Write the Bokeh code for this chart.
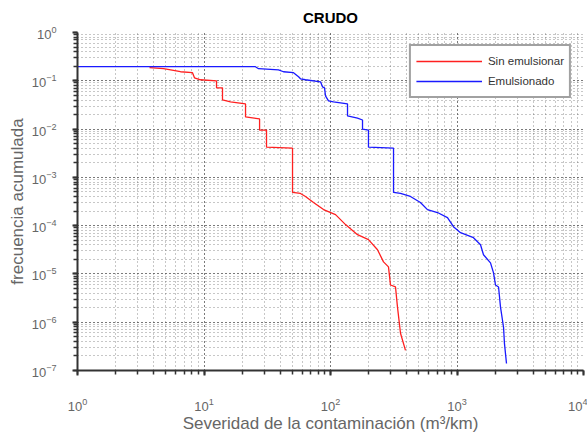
from bokeh.plotting import figure
from bokeh.models import Legend, LegendItem, LogTickFormatter
from bokeh.embed import file_html
from bokeh.resources import INLINE

# Sin emulsionar (red) - step curve vertices
sin_x = [3.71, 4.79, 6.52, 8.11, 8.41, 9.38, 12.56, 12.56, 14.0, 14.0, 16.2, 21.3, 21.3, 27.5, 27.5,
         31.2, 31.2, 50.1, 50.1, 57.9, 63.4, 73.4, 88.1, 109.6, 131.5, 163.5, 199.6, 235.3, 262.5,
         287.3, 298.0, 326.5, 338.5, 357.6, 391.6]
sin_y = [0.187, 0.178, 0.154, 0.147, 0.1155, 0.105, 0.100, 0.0715, 0.0715, 0.0402, 0.0365, 0.0332,
         0.0178, 0.0162, 0.00955, 0.00955, 0.00422, 0.00402, 0.000487, 0.000464, 0.000402, 0.000302,
         0.000215, 0.000169, 0.000105, 6.49e-5, 5.13e-5, 3.16e-5, 1.78e-5, 1.40e-5, 5.9e-6, 5.37e-6,
         2.05e-6, 5.9e-7, 2.61e-7]

# Emulsionado (blue)
emu_x = [1.0, 25.5, 27.0, 38.8, 42.5, 51.0, 55.9, 57.9, 63.4, 83.4, 86.4, 89.7, 91.3, 96.4, 105.6,
         136.3, 136.3, 163.5, 179.1, 179.1, 199.6, 199.6, 315.0, 315.0, 357.6, 428.6, 514.0, 584.0,
         701.0, 841.0, 938.0, 1066.0, 1350.0, 1534.0, 1620.0, 1840.0, 1944.0, 2015.0, 2130.0, 2208.0,
         2333.0, 2372.0, 2462.0]
emu_y = [0.196, 0.196, 0.178, 0.169, 0.154, 0.147, 0.121, 0.110, 0.105, 0.0953, 0.075, 0.0715, 0.0487,
         0.0383, 0.0365, 0.0332, 0.0187, 0.0169, 0.0154, 0.0100, 0.00955, 0.00422, 0.00402, 0.000487,
         0.000464, 0.000402, 0.000302, 0.000215, 0.000187, 0.000147, 9.53e-5, 7.15e-5, 5.62e-5,
         4.02e-5, 2.49e-5, 1.69e-5, 1.05e-5, 5.9e-6, 5.37e-6, 2.05e-6, 7.87e-7, 3.65e-7, 1.40e-7]

FONT = "Liberation Sans"

p = figure(width=587, height=442, x_axis_type="log", y_axis_type="log",
           x_range=(1, 1e4), y_range=(1e-7, 1), output_backend="svg",
           toolbar_location=None, title="CRUDO",
           min_border_left=77, min_border_right=4, min_border_top=13, min_border_bottom=72)

p.title.align = "center"
p.title.text_font = FONT
p.title.text_font_size = "15px"
p.title.text_font_style = "bold"
p.title.text_color = "black"
p.title.standoff = 13
p.outline_line_color = None
p.background_fill_color = "white"

r1 = p.line(sin_x, sin_y, line_color="#ff2020", line_width=1.3)
r2 = p.line(emu_x, emu_y, line_color="#1a1aff", line_width=1.3)

for ax in (p.xaxis[0], p.yaxis[0]):
    ax.formatter = LogTickFormatter()
    ax.axis_line_width = 2
    ax.axis_line_color = "#333333"
    ax.major_tick_line_width = 2
    ax.major_tick_line_color = "#333333"
    ax.minor_tick_line_color = "#333333"
    ax.minor_tick_line_width = 1.5
    ax.major_tick_out = 5
    ax.major_tick_in = 0
    ax.minor_tick_out = 4
    ax.minor_tick_in = 0
    ax.major_label_text_font = FONT
    ax.major_label_text_font_size = "13px"
    ax.major_label_text_color = "#666666"
    ax.axis_label_text_font = FONT
    ax.axis_label_text_font_size = "17px"
    ax.axis_label_text_font_style = "normal"
    ax.axis_label_text_color = "#666666"

p.xaxis.axis_label = "Severidad de la contaminación (m³/km)"
p.yaxis.axis_label = "frecuencia acumulada"
p.xaxis.major_label_standoff = 22
p.xaxis.axis_label_standoff = 0
p.yaxis.major_label_standoff = 16
p.yaxis.axis_label_standoff = 2

for g in (p.xgrid[0], p.ygrid[0]):
    g.grid_line_color = "#444444"
    g.grid_line_dash = "1 3"
    g.grid_line_alpha = 0.8
    g.minor_grid_line_color = "#444444"
    g.minor_grid_line_dash = "1 3"
    g.minor_grid_line_alpha = 0.6

legend = Legend(items=[LegendItem(label="Sin emulsionar", renderers=[r1]),
                       LegendItem(label="Emulsionado", renderers=[r2])],
                location="top_right")
legend.margin = 12
legend.border_line_color = "#444444"
legend.border_line_width = 2
legend.label_text_font = FONT
legend.label_text_font_size = "11.5px"
legend.label_text_color = "#333333"
legend.glyph_width = 66
legend.glyph_height = 20
legend.label_height = 20
legend.spacing = 0
legend.padding = 5
legend.label_standoff = 6
legend.background_fill_alpha = 1
p.add_layout(legend)

open("out.html", "w").write(file_html(p, INLINE))
